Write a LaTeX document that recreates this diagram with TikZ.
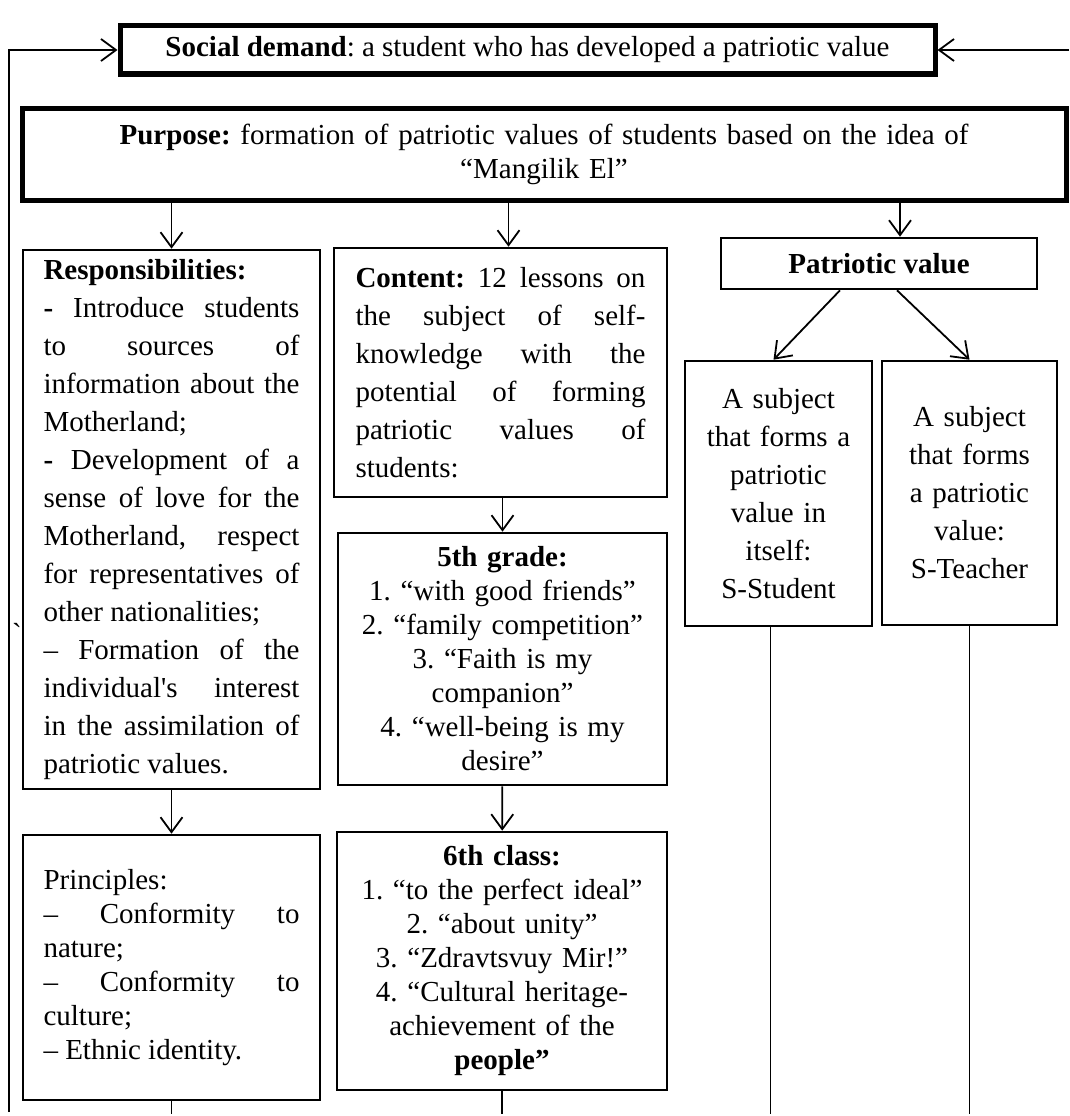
\documentclass[tikz,border=0pt]{standalone}
\usepackage{fontspec}
\setmainfont{Liberation Serif}
\usetikzlibrary{arrows.meta}
\setlength{\parindent}{0pt}
\tolerance=10000
\hbadness=10000
\frenchspacing

\begin{document}
\begin{tikzpicture}[x=1pt,y=-1pt]
      \tikzset{
        every node/.style={inner sep=0pt,font=\fontsize{29pt}{38pt}\selectfont},
        box/.style={draw,line width=2.6pt},
        heavy/.style={draw,line width=5pt},
        tight/.style={font=\fontsize{29pt}{34pt}\selectfont},
        wire/.style={line width=1.8pt},
        arr/.style={wire,-{Straight Barb[length=15pt,width=22pt]}}
      }
      \useasboundingbox (0,0) rectangle (1069,1116);

      \node[heavy,minimum width=815pt,minimum height=48pt] (social) at (527.5,50)
        {\textbf{Social demand}: a student who has developed a patriotic value};
      \node[heavy,tight,minimum width=1044pt,minimum height=92pt,text width=1000pt,align=center] (purpose) at (544,154)
        {\textbf{Purpose:} formation of patriotic values of students based on the idea of\\“Mangilik El”};

      \node[box,minimum width=297pt,minimum height=539pt,text width=256pt,align=justify] (resp) at (171.5,519.5)
        {\textbf{Responsibilities:}\par
         \textbf{-} Introduce students\linebreak to sources of\linebreak information about the\linebreak Motherland;\par
         \textbf{-} Development of a\linebreak sense of love for the\linebreak Motherland, respect\linebreak for representatives of\linebreak other nationalities;\par
         – Formation of the\linebreak individual\textquotesingle s interest\linebreak in the assimilation of\linebreak patriotic values.};
      \node[box,tight,minimum width=297pt,minimum height=265pt,text width=256pt,align=justify] (princ) at (171.5,967.5)
        {Principles:\par
         – Conformity to\linebreak nature;\par
         – Conformity to\linebreak culture;\par
         – Ethnic identity.};

      \node[box,minimum width=333pt,minimum height=249pt,text width=290pt,align=justify] (content) at (500.5,372.5)
        {\textbf{Content:} 12 lessons on\linebreak the subject of self-\linebreak knowledge with the\linebreak potential of forming\linebreak patriotic values of\linebreak students:};
      \node[box,tight,minimum width=329pt,minimum height=252pt,text width=310pt,align=center] (g5) at (502.5,659)
        {\textbf{5th grade:}\\1. “with good friends”\\2. “family competition”\\3. “Faith is my\\companion”\\4. “well-being is my\\desire”};
      \node[box,tight,minimum width=330pt,minimum height=258pt,text width=310pt,align=center] (g6) at (502,961)
        {\textbf{6th class:}\\1. “to the perfect ideal”\\2. “about unity”\\3. “Zdravtsvuy Mir!”\\4. “Cultural heritage-\\achievement of the\\\textbf{people”}};

      \node[box,minimum width=316pt,minimum height=51pt] (pv) at (879,263.5) {\textbf{Patriotic value}};
      \node[box,minimum width=187pt,minimum height=265pt,text width=175pt,align=center] (subj1) at (778.5,493.5)
        {A subject\\that forms a\\patriotic\\value in\\itself:\\S-Student};
      \node[box,minimum width=175pt,minimum height=264pt,text width=165pt,align=center] (subj2) at (969.5,493)
        {A subject\\that forms\\a patriotic\\value:\\S-Teacher};

      \node (tick) at (17,633) {\textasciigrave};

      \coordinate (lb) at (9,1112);
      \coordinate (rt) at (1069,50);
      \coordinate (bot) at (0,1114);
      \coordinate (pvin) at ([xshift=21pt]pv.north);
      \coordinate (cin) at ([xshift=8pt]content.north);
      \coordinate (s1out) at ([xshift=-8pt]subj1.south);

      \draw[arr] (lb) |- (social);
      \draw[arr] (rt) -- (social);
      \draw[arr] (purpose.south -| resp) -- (resp);
      \draw[arr] (purpose.south -| cin) -- (cin);
      \draw[arr] (purpose.south -| pvin) -- (pvin);
      \draw[arr] ([xshift=-39pt]pv.south) -- ([xshift=-5pt]subj1.north);
      \draw[arr] ([xshift=18pt]pv.south) -- (subj2.north);
      \draw[arr] (resp) -- (princ);
      \draw[arr] (content.south -| g5) -- (g5);
      \draw[arr] (g5) -- (g6);
      \draw[wire] (princ.south) -- (princ.south |- bot)
                  (g6.south) -- (g6.south |- bot)
                  (s1out) -- (s1out |- bot)
                  (subj2.south) -- (subj2.south |- bot);
    \end{tikzpicture}
\end{document}
